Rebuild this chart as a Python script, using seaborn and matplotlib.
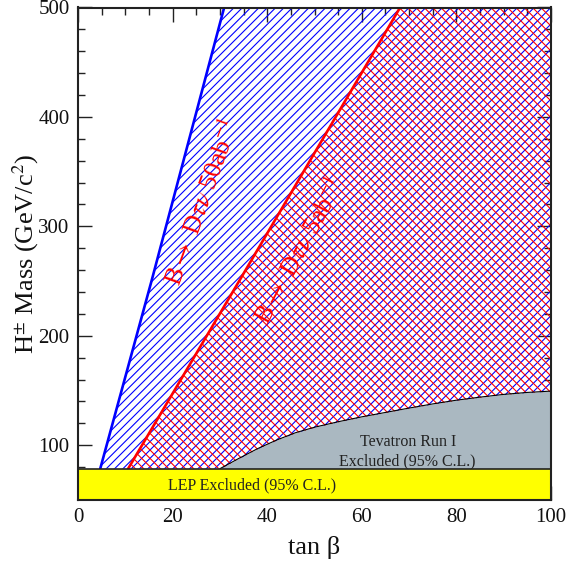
import numpy as np
import pandas as pd
import matplotlib
matplotlib.use("Agg")
import matplotlib.pyplot as plt
import seaborn as sns

# ---- data ----
lep_limit = 78.6
y_floor = 50
y_ceil = 500

blue_x = [4.7, 15.6, 30.9]
blue_y = [78.6, 251, 500]

red_x = [10.6, 34.2, 68.1]
red_y = [78.6, 251, 500]

tev_x = [30, 34, 38, 42, 46, 50, 55, 60, 65, 70, 75, 80, 85, 90, 95, 100]
tev_y = [78.6, 88.0, 97.0, 104.8, 111.5, 116.5, 121.5, 126.0, 130.0, 134.0,
         137.8, 141.2, 144.0, 146.5, 148.3, 149.5]

xticks = [0, 20, 40, 60, 80, 100]
yticks = [100, 200, 300, 400, 500]

label_50 = r"B$\rightarrow$ D$\tau\nu$ 50ab$^{-1}$"
label_5 = r"B$\rightarrow$ D$\tau\nu$ 5ab$^{-1}$"
lep_text = "LEP Excluded (95% C.L.)"
tev_text = "Tevatron Run I\nExcluded (95% C.L.)"

# ---- style ----
sns.set_theme(style="ticks")
plt.rcParams["font.family"] = ["Liberation Serif", "DejaVu Serif"]
plt.rcParams["mathtext.fontset"] = "stix"
plt.rcParams["hatch.linewidth"] = 0.8

fig = plt.figure(figsize=(5.66, 5.69), dpi=100)
ax = fig.add_axes([78 / 566, 1 - 500 / 569, (551 - 78) / 566, (500 - 7.5) / 569])

blue_df = pd.DataFrame({"x": blue_x, "y": blue_y})
red_df = pd.DataFrame({"x": red_x, "y": red_y})
tev_df = pd.DataFrame({"x": tev_x, "y": tev_y})

# hatched regions
ax.fill_betweenx(blue_df["y"], blue_df["x"], 100, facecolor="none",
                 edgecolor="#0000ff", hatch="////", linewidth=0, zorder=1)
ax.fill_betweenx(red_df["y"], red_df["x"], 100, facecolor="none",
                 edgecolor="#ff0000", hatch="\\\\\\\\", linewidth=0, zorder=1)

# boundary lines
sns.lineplot(data=blue_df, x="x", y="y", sort=False, estimator=None,
             color="#0000ff", linewidth=1.9, ax=ax, zorder=3)
sns.lineplot(data=red_df, x="x", y="y", sort=False, estimator=None,
             color="#ff0000", linewidth=1.9, ax=ax, zorder=3)

# Tevatron excluded region
ax.fill_between(tev_df["x"], lep_limit, tev_df["y"], color="#aab8c1",
                linewidth=0, zorder=4)
sns.lineplot(data=tev_df, x="x", y="y", sort=False, estimator=None,
             color="black", linewidth=0.8, ax=ax, zorder=5)

# LEP excluded band
ax.axhspan(y_floor, lep_limit, facecolor="#ffff00", edgecolor="none", zorder=6)
ax.axhline(lep_limit, color="#222222", linewidth=1.2, zorder=7)

# texts
ax.text(36.9, 63, lep_text, ha="center", va="center", fontsize=11.5,
        color="#222222", zorder=8)
ax.text(69.7, 94, tev_text, ha="center", va="center", fontsize=11.5,
        color="#222222", linespacing=1.25, zorder=8)
ax.text(26.2, 322, label_50, ha="center", va="center", fontsize=18.5,
        color="#ff0000", rotation=70, rotation_mode="anchor", zorder=8)
ax.text(46.8, 277, label_5, ha="center", va="center", fontsize=18.5,
        color="#ff0000", rotation=61.5, rotation_mode="anchor", zorder=8)

# axes
ax.set_xlim(0, 100)
ax.set_ylim(y_floor, y_ceil)
ax.set_xticks(xticks)
ax.set_yticks(yticks)
ax.set_xticks(np.arange(0, 101, 5), minor=True)
ax.set_yticks(np.arange(60, 501, 20), minor=True)
ax.tick_params(which="both", direction="in", top=True, right=True,
               color="#222222", width=1.0, labelsize=15, labelcolor="#111111")
ax.tick_params(which="major", length=10, pad=6)
ax.tick_params(which="minor", length=5)
for s in ax.spines.values():
    s.set_linewidth(1.5)
    s.set_color("#222222")
    s.set_zorder(10)

ax.set_xlabel("tan β", fontsize=19, color="#111111", labelpad=6)
ax.set_ylabel(r"H$^{\pm}$ Mass (GeV/c$^{2}$)", fontsize=19, color="#111111",
              labelpad=-2)

fig.savefig("out.png", dpi=100)
